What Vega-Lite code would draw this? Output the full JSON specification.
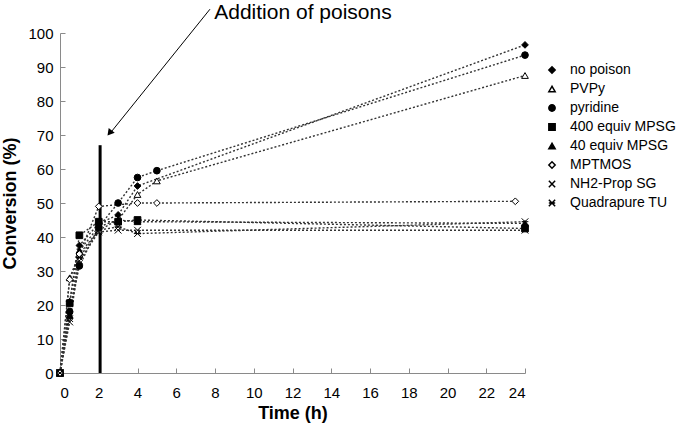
{
  "$schema": "https://vega.github.io/schema/vega-lite/v6.json",
  "width": 465,
  "height": 340,
  "autosize": {"type": "none"},
  "padding": {"left": 60, "top": 33, "right": 152, "bottom": 53},
  "background": "white",
  "config": {
    "view": {"stroke": null},
    "font": "Liberation Sans",
    "axis": {
      "grid": false,
      "domainColor": "#8a8a8a",
      "tickColor": "#8a8a8a",
      "labelColor": "black",
      "labelFont": "Liberation Sans",
      "labelFontSize": 15,
      "titleFont": "Liberation Sans",
      "titleFontSize": 18,
      "titleFontWeight": "bold",
      "titleColor": "black",
      "tickSize": -5,
      "labelOverlap": false
    },
    "legend": {
      "title": null,
      "orient": "none",
      "legendX": 485,
      "legendY": 30,
      "symbolSize": 40,
      "labelFont": "Liberation Sans",
      "labelFontSize": 14,
      "labelColor": "black",
      "labelLimit": 0,
      "labelOffset": 11,
      "rowPadding": 5
    }
  },
  "data": {
    "values": [
      {"series": "no poison", "t": 0, "conv": 0},
      {"series": "no poison", "t": 0.5, "conv": 21},
      {"series": "no poison", "t": 1, "conv": 37.5},
      {"series": "no poison", "t": 2, "conv": 44},
      {"series": "no poison", "t": 3, "conv": 46.5},
      {"series": "no poison", "t": 4, "conv": 55},
      {"series": "no poison", "t": 24, "conv": 96.5},
      {"series": "PVPy", "t": 0, "conv": 0},
      {"series": "PVPy", "t": 0.5, "conv": 28},
      {"series": "PVPy", "t": 1, "conv": 35},
      {"series": "PVPy", "t": 2, "conv": 42},
      {"series": "PVPy", "t": 3, "conv": 45},
      {"series": "PVPy", "t": 4, "conv": 52.5},
      {"series": "PVPy", "t": 5, "conv": 56.5},
      {"series": "PVPy", "t": 24, "conv": 87.5},
      {"series": "pyridine", "t": 0, "conv": 0},
      {"series": "pyridine", "t": 0.5, "conv": 18},
      {"series": "pyridine", "t": 1, "conv": 31.5},
      {"series": "pyridine", "t": 2, "conv": 43},
      {"series": "pyridine", "t": 3, "conv": 50},
      {"series": "pyridine", "t": 4, "conv": 57.5},
      {"series": "pyridine", "t": 5, "conv": 59.5},
      {"series": "pyridine", "t": 24, "conv": 93.5},
      {"series": "400 equiv MPSG", "t": 0, "conv": 0},
      {"series": "400 equiv MPSG", "t": 0.5, "conv": 20.5},
      {"series": "400 equiv MPSG", "t": 1, "conv": 40.5},
      {"series": "400 equiv MPSG", "t": 2, "conv": 44.5},
      {"series": "400 equiv MPSG", "t": 3, "conv": 44.5},
      {"series": "400 equiv MPSG", "t": 4, "conv": 45},
      {"series": "400 equiv MPSG", "t": 24, "conv": 42.5},
      {"series": "40 equiv MPSG", "t": 0, "conv": 0},
      {"series": "40 equiv MPSG", "t": 0.5, "conv": 17},
      {"series": "40 equiv MPSG", "t": 1, "conv": 36},
      {"series": "40 equiv MPSG", "t": 2, "conv": 43},
      {"series": "40 equiv MPSG", "t": 3, "conv": 45},
      {"series": "40 equiv MPSG", "t": 4, "conv": 44.5},
      {"series": "40 equiv MPSG", "t": 24, "conv": 44},
      {"series": "MPTMOS", "t": 0, "conv": 0},
      {"series": "MPTMOS", "t": 0.5, "conv": 27.5},
      {"series": "MPTMOS", "t": 1, "conv": 35},
      {"series": "MPTMOS", "t": 2, "conv": 49},
      {"series": "MPTMOS", "t": 4, "conv": 50},
      {"series": "MPTMOS", "t": 5, "conv": 50},
      {"series": "MPTMOS", "t": 23.5, "conv": 50.5},
      {"series": "NH2-Prop SG", "t": 0, "conv": 0},
      {"series": "NH2-Prop SG", "t": 0.5, "conv": 15},
      {"series": "NH2-Prop SG", "t": 1, "conv": 33},
      {"series": "NH2-Prop SG", "t": 2, "conv": 41.5},
      {"series": "NH2-Prop SG", "t": 3, "conv": 42},
      {"series": "NH2-Prop SG", "t": 4, "conv": 42},
      {"series": "NH2-Prop SG", "t": 24, "conv": 42},
      {"series": "Quadrapure TU", "t": 0, "conv": 0},
      {"series": "Quadrapure TU", "t": 0.5, "conv": 16},
      {"series": "Quadrapure TU", "t": 1, "conv": 34},
      {"series": "Quadrapure TU", "t": 2, "conv": 42},
      {"series": "Quadrapure TU", "t": 3, "conv": 43},
      {"series": "Quadrapure TU", "t": 4, "conv": 41},
      {"series": "Quadrapure TU", "t": 24, "conv": 44.5}
    ]
  },
  "encoding": {
    "x": {
      "field": "t", "type": "quantitative",
      "scale": {"domain": [0, 24], "nice": false},
      "axis": {"values": [0,2,4,6,8,10,12,14,16,18,20,22,24], "title": "Time (h)", "labelPadding": 17, "titlePadding": 4}
    },
    "y": {
      "field": "conv", "type": "quantitative",
      "scale": {"domain": [0, 100], "nice": false},
      "axis": {"values": [0,10,20,30,40,50,60,70,80,90,100], "title": "Conversion (%)", "labelPadding": 12, "titlePadding": 8}
    }
  },
  "layer": [
    {
      "mark": {"type": "line", "strokeDash": [2, 2], "strokeWidth": 1.4, "color": "#333333"},
      "encoding": {"detail": {"field": "series"}}
    },
    {
      "transform": [{"filter": "datum.series === 'no poison' && datum.t === 0"}],
      "mark": {"type": "rule", "strokeWidth": 3, "color": "black"},
      "encoding": {
        "x": {"datum": 2.07},
        "y": {"datum": 0},
        "y2": {"datum": 67}
      }
    },
    {
      "transform": [{"filter": "datum.series === 'no poison' && datum.t === 0"}],
      "mark": {"type": "rule", "strokeWidth": 1, "color": "black", "clip": false},
      "encoding": {
        "x": {"datum": 7.74},
        "y": {"datum": 107},
        "x2": {"datum": 2.6},
        "y2": {"datum": 70.6}
      }
    },
    {
      "transform": [{"filter": "datum.series === 'no poison' && datum.t === 0"}],
      "mark": {"type": "point", "shape": "triangle-up", "angle": 219, "size": 60, "filled": true, "color": "black", "opacity": 1},
      "encoding": {
        "x": {"datum": 2.56},
        "y": {"datum": 70.6}
      }
    },
    {
      "transform": [{"filter": "datum.series === 'no poison' && datum.t === 0"}],
      "mark": {"type": "text", "fontSize": 21, "font": "Liberation Sans", "color": "black"},
      "encoding": {
        "x": {"datum": 12.54},
        "y": {"datum": 105.8},
        "text": {"value": "Addition of poisons"}
      }
    },
    {
      "mark": {"type": "point", "filled": true, "stroke": "black", "strokeWidth": 1, "opacity": 1, "size": 45},
      "encoding": {
        "shape": {
          "field": "series", "type": "nominal",
          "scale": {
            "domain": ["no poison", "PVPy", "pyridine", "400 equiv MPSG", "40 equiv MPSG", "MPTMOS", "NH2-Prop SG", "Quadrapure TU"],
            "range": ["diamond", "triangle-up", "circle", "square", "triangle-up", "diamond", "M-1,-1L1,1M-1,1L1,-1", "M-1,-1L1,1M-1,1L1,-1M-1,0L1,0"]
          },
          "legend": {
            "encode": {
              "symbols": {
                "stroke": {"value": "black"},
                "strokeWidth": {"value": 1}
              }
            }
          }
        },
        "fill": {
          "field": "series", "type": "nominal",
          "scale": {
            "domain": ["no poison", "PVPy", "pyridine", "400 equiv MPSG", "40 equiv MPSG", "MPTMOS", "NH2-Prop SG", "Quadrapure TU"],
            "range": ["black", "white", "black", "black", "black", "white", "white", "white"]
          }
        }
      }
    }
  ]
}
